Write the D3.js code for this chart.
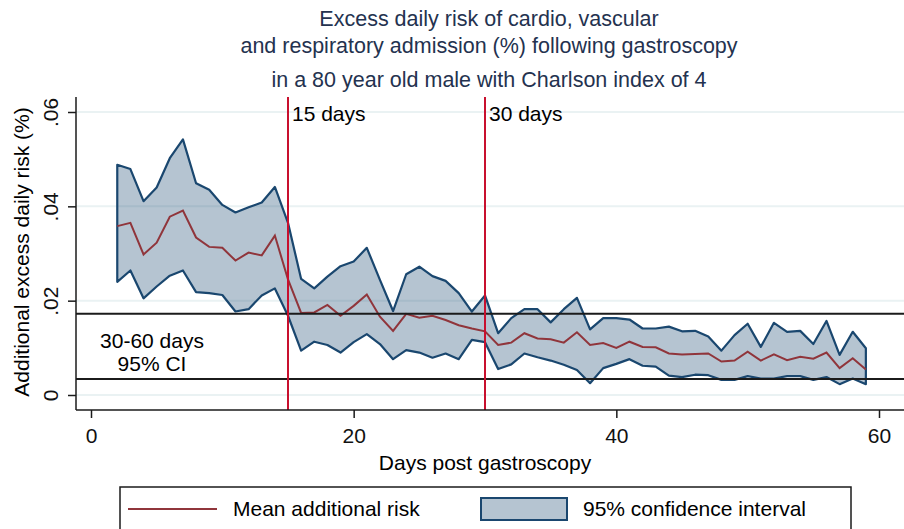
<!DOCTYPE html>
<meta charset="utf-8">
<style>
body{
  margin: 0;
  background-color: white;
}
text{
  font-family: "Liberation Sans", Arial, Helvetica, sans-serif;
}
</style>
<body>
<svg class="chart" width="904" height="529"></svg>
<script src="https://d3js.org/d3.v7.min.js"></script>
<script>
// days post gastroscopy
var days = [2, 3, 4, 5, 6, 7, 8, 9, 10, 11, 12, 13, 14, 15, 16, 17, 18, 19, 20,
  21, 22, 23, 24, 25, 26, 27, 28, 29, 30, 31, 32, 33, 34, 35, 36, 37, 38, 39, 40,
  41, 42, 43, 44, 45, 46, 47, 48, 49, 50, 51, 52, 53, 54, 55, 56, 57, 58, 59];

// mean additional risk
var meanRisk = [.0358, .0365, .0298, .0323, .0378, .0391, .0334, .0314, .0312, .0285,
  .0302, .0296, .0338, .0245, .0174, .0175, .0191, .0168, .0189, .0213,
  .0166, .0136, .0172, .0164, .0168, .0159, .0148, .0141, .0135, .0106,
  .0111, .0131, .0120, .0118, .0111, .0133, .0106, .0110, .0100, .0113,
  .0102, .0101, .0088, .0086, .0087, .0088, .0071, .0073, .0092, .0073,
  .0086, .0074, .0081, .0077, .0090, .0057, .0078, .0054];

// upper bound of 95% CI
var upperCI = [.0488, .0479, .0411, .0440, .0502, .0542, .0449, .0435, .0403, .0387,
  .0398, .0408, .0441, .0365, .0246, .0226, .0251, .0273, .0283, .0312,
  .0244, .0178, .0256, .0272, .0252, .0242, .0216, .0177, .0211, .0131,
  .0163, .0182, .0182, .0154, .0182, .0206, .0139, .0163, .0163, .0160,
  .0141, .0141, .0145, .0135, .0136, .0124, .0094, .0127, .0151, .0102,
  .0153, .0134, .0136, .0108, .0157, .0085, .0134, .0099];

// lower bound of 95% CI
var lowerCI = [.0240, .0264, .0205, .0230, .0253, .0264, .0218, .0216, .0212, .0177,
  .0182, .0211, .0226, .0168, .0094, .0113, .0106, .0090, .0112, .0129,
  .0108, .0076, .0095, .0090, .0079, .0088, .0076, .0117, .0112, .0055,
  .0065, .0088, .0080, .0073, .0064, .0053, .0025, .0057, .0066, .0076,
  .0062, .0060, .0041, .0038, .0043, .0042, .0032, .0032, .0040, .0035,
  .0035, .0040, .0040, .0032, .0038, .0023, .0035, .0023];

// 30-60 days 95% CI band (horizontal lines)
var refLevels = [0.0172, 0.0034];

// vertical markers
var markerDays = [15, 30];
var markerLabels = ["15 days", "30 days"];

var xTicks = [0, 20, 40, 60];
var yTicks = [0, 0.02, 0.04, 0.06];
var yTickLabels = ["0", ".02", ".04", ".06"];

var titleLines = ["Excess daily risk of cardio, vascular",
  "and respiratory admission (%) following gastroscopy",
  "in a 80 year old male with Charlson index of 4"];

var navy = "#1a476f";
var maroon = "#90353b";
var crimson = "#c8102e";

var svg = d3.select("svg");

// plot region (note: "top" is taken by window.top)
var plotLeft = 76, plotRight = 904, plotTop = 97, plotBottom = 410;

var x = d3.scaleLinear().domain([0, 60]).range([91, 879]);
var y = d3.scaleLinear().domain([0, 0.06]).range([395, 112]);

var rows = days.map(function (d, i) {
  return {day: d, mean: meanRisk[i], lo: lowerCI[i], hi: upperCI[i]};
});

// gridlines
svg.selectAll(".grid")
  .data(yTicks)
  .enter()
  .append("line")
  .attr("x1", plotLeft)
  .attr("x2", plotRight)
  .attr("y1", function (d) { return y(d); })
  .attr("y2", function (d) { return y(d); })
  .attr("stroke", "#eaf2f3")
  .attr("stroke-width", 2);

// confidence band
var band = d3.area()
  .x(function (d) { return x(d.day); })
  .y0(function (d) { return y(d.lo); })
  .y1(function (d) { return y(d.hi); });

svg.append("path")
  .datum(rows)
  .attr("d", band)
  .attr("fill", navy)
  .attr("fill-opacity", 0.32)
  .attr("stroke", "none");

// band outline (closed)
var outline = rows.map(function (d) { return [x(d.day), y(d.hi)]; })
  .concat(rows.slice().reverse().map(function (d) { return [x(d.day), y(d.lo)]; }));
svg.append("path")
  .attr("d", d3.line()(outline) + "Z")
  .attr("fill", "none")
  .attr("stroke", navy)
  .attr("stroke-width", 2.2)
  .attr("stroke-linejoin", "round");

// mean line
svg.append("path")
  .datum(rows)
  .attr("d", d3.line()
    .x(function (d) { return x(d.day); })
    .y(function (d) { return y(d.mean); }))
  .attr("fill", "none")
  .attr("stroke", maroon)
  .attr("stroke-width", 2);

// horizontal reference lines
svg.selectAll(".ref")
  .data(refLevels)
  .enter()
  .append("line")
  .attr("x1", plotLeft)
  .attr("x2", plotRight)
  .attr("y1", function (d) { return y(d); })
  .attr("y2", function (d) { return y(d); })
  .attr("stroke", "#1b1b1b")
  .attr("stroke-width", 2);

svg.append("text")
  .attr("x", 152)
  .attr("y", 348)
  .attr("text-anchor", "middle")
  .attr("font-size", "21px")
  .text("30-60 days");
svg.append("text")
  .attr("x", 152)
  .attr("y", 371)
  .attr("text-anchor", "middle")
  .attr("font-size", "21px")
  .text("95% CI");

// vertical markers
svg.selectAll(".marker")
  .data(markerDays)
  .enter()
  .append("line")
  .attr("x1", function (d) { return x(d); })
  .attr("x2", function (d) { return x(d); })
  .attr("y1", plotTop)
  .attr("y2", plotBottom)
  .attr("stroke", crimson)
  .attr("stroke-width", 2);

svg.selectAll(".markerLabel")
  .data(markerDays)
  .enter()
  .append("text")
  .attr("x", function (d) { return x(d) + 4; })
  .attr("y", 121)
  .attr("font-size", "21px")
  .text(function (d, i) { return markerLabels[i]; });

// axes
var xAxis = svg.append("g")
  .attr("transform", "translate(0," + plotBottom + ")")
  .call(d3.axisBottom(x).tickValues(xTicks).tickSize(8).tickPadding(10).tickFormat(d3.format("d")));
xAxis.select(".domain").remove();
xAxis.selectAll(".tick line").attr("stroke", "#1b1b1b").attr("stroke-width", 1.5);
xAxis.selectAll(".tick text")
  .attr("font-size", "21px")
  .attr("font-family", "Liberation Sans, Arial, sans-serif")
  .attr("fill", "#111");

var yAxis = svg.append("g")
  .attr("transform", "translate(" + plotLeft + ",0)")
  .call(d3.axisLeft(y).tickValues(yTicks).tickSize(8)
    .tickFormat(function (d, i) { return yTickLabels[i]; }));
yAxis.select(".domain").remove();
yAxis.selectAll(".tick line").attr("stroke", "#1b1b1b").attr("stroke-width", 1.5);
yAxis.selectAll(".tick text")
  .attr("font-size", "21px")
  .attr("font-family", "Liberation Sans, Arial, sans-serif")
  .attr("fill", "#111")
  .attr("x", null)
  .attr("dy", null)
  .attr("text-anchor", "middle")
  .attr("transform", "translate(-18,0) rotate(-90)");

// axis lines
svg.append("line")
  .attr("x1", plotLeft).attr("x2", plotLeft)
  .attr("y1", plotTop).attr("y2", plotBottom)
  .attr("stroke", "#1b1b1b").attr("stroke-width", 1.5);
svg.append("line")
  .attr("x1", plotLeft).attr("x2", plotRight)
  .attr("y1", plotBottom).attr("y2", plotBottom)
  .attr("stroke", "#1b1b1b").attr("stroke-width", 1.5);

// axis titles
svg.append("text")
  .attr("transform", "translate(29,252) rotate(-90)")
  .attr("text-anchor", "middle")
  .attr("font-size", "21px")
  .text("Additional excess daily risk (%)");

svg.append("text")
  .attr("x", 485)
  .attr("y", 470)
  .attr("text-anchor", "middle")
  .attr("font-size", "21px")
  .text("Days post gastroscopy");

// title
var titleY = [26, 53, 87];
svg.selectAll(".title")
  .data(titleLines)
  .enter()
  .append("text")
  .attr("x", 489)
  .attr("y", function (d, i) { return titleY[i]; })
  .attr("text-anchor", "middle")
  .attr("font-size", "21.5px")
  .attr("fill", "#24324f")
  .text(function (d) { return d; });

// legend
svg.append("rect")
  .attr("x", 120).attr("y", 487)
  .attr("width", 731).attr("height", 60)
  .attr("fill", "white")
  .attr("stroke", "#1b1b1b")
  .attr("stroke-width", 1.5);
svg.append("line")
  .attr("x1", 128).attr("x2", 217)
  .attr("y1", 509).attr("y2", 509)
  .attr("stroke", maroon).attr("stroke-width", 2);
svg.append("text")
  .attr("x", 233).attr("y", 516)
  .attr("font-size", "21px")
  .text("Mean additional risk");
svg.append("rect")
  .attr("x", 481).attr("y", 498)
  .attr("width", 86).attr("height", 22)
  .attr("fill", navy).attr("fill-opacity", 0.32)
  .attr("stroke", navy).attr("stroke-width", 2);
svg.append("text")
  .attr("x", 583).attr("y", 516)
  .attr("font-size", "21px")
  .text("95% confidence interval");
</script>
</body>
</html>
